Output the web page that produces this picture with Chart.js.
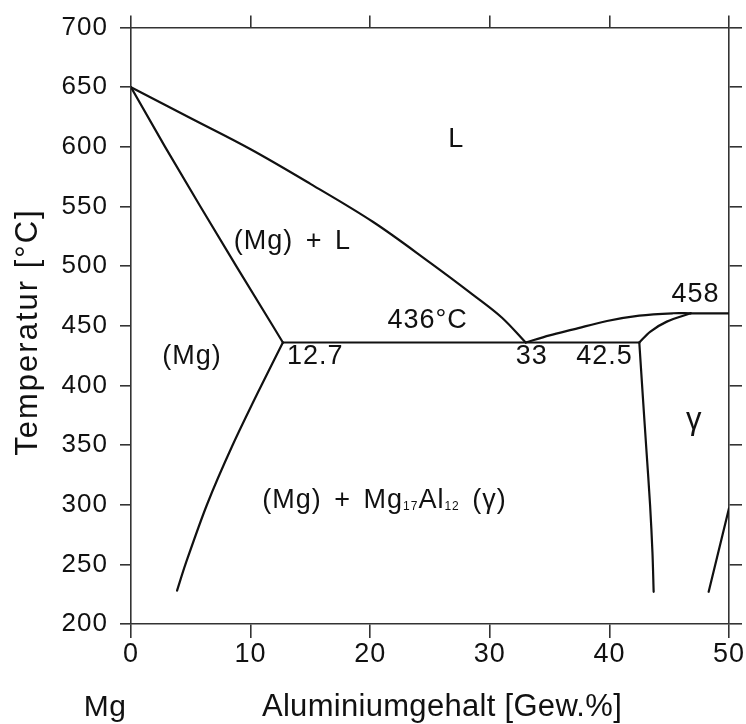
<!DOCTYPE html>
<html>
<head>
<meta charset="utf-8">
<script src="https://cdn.jsdelivr.net/npm/chart.js@4.4.1/dist/chart.umd.min.js"></script>
<style>
  html, body { margin: 0; padding: 0; background: #fff; }
  canvas { display: block; }
</style>
</head>
<body>
<canvas id="c" width="746" height="724" style="width:746px;height:724px"></canvas>
<script>
// ---- data (Aluminiumgehalt in Gew.%, Temperatur in °C) ----
const xTicks = [0, 10, 20, 30, 40, 50];
const yTicks = [200, 250, 300, 350, 400, 450, 500, 550, 600, 650, 700];

// Liquidus, Mg side
const liqMgX = [0, 5, 10, 15, 20.25, 25, 28.6, 31, 33];
const liqMgT = [650, 624, 598, 569, 537, 503, 476, 457, 436];
// Solidus, Mg side
const solMgX = [0, 2.85, 5.8, 8.8, 11.85, 12.7];
const solMgT = [650, 600, 550, 500, 450, 436];
// Solvus of (Mg)
const solvMgX = [12.7, 10.9, 8.5, 6.35, 4.55, 3.85];
const solvMgT = [436, 400, 350, 300, 250, 228];
// Eutectic line 436 °C
const eutX = [12.7, 42.5];
const eutT = [436, 436];
// Liquidus, gamma side
const liqGX = [33, 35, 37, 39.8, 42.5, 45.3, 46.8];
const liqGT = [436, 442, 447, 454, 458.5, 460.5, 460.5];
// Solidus, gamma side
const solGX = [42.5, 43.4, 44.8, 46.8];
const solGT = [436, 445, 453.5, 460.5];
// Maximum of gamma (458 °C)
const maxGX = [46.8, 50];
const maxGT = [460.5, 460.5];
// Gamma solvus, left
const solvGLX = [42.5, 42.8, 43.1, 43.4, 43.6, 43.7];
const solvGLT = [436, 390, 345, 300, 260, 227];
// Gamma solvus, right
const solvGRX = [48.3, 50];
const solvGRT = [227, 297];

// ---- text labels: [text, x, T (baseline), font size] ----
const labels = [
  ['L', 27.2, 600, 27],
  ['(Mg) + L', 13.5, 514, 27],
  ['436°C', 24.8, 448, 27],
  ['458', 47.2, 470, 27],
  ['(Mg)', 5.1, 418, 27],
  ['12.7', 15.4, 418, 27],
  ['33', 33.5, 418, 27],
  ['42.5', 39.6, 418, 27],
  ['γ', 47.1, 363.5, 31]
];
const phaseLabel = { x: 21.2, T: 297 };

const FONT = "'Liberation Sans', Arial, Helvetica, sans-serif";
const INK = '#111111';
const AXIS = '#333333';

function pts(xs, ts) { return xs.map((x, i) => ({ x: x, y: ts[i] })); }
function curve(xs, ts, tension) {
  return {
    data: pts(xs, ts), showLine: true, pointRadius: 0, borderColor: INK,
    borderWidth: 2.2, tension: tension, fill: false,
    borderJoinStyle: 'round', borderCapStyle: 'round',
    xAxisID: 'x', yAxisID: 'y'
  };
}

const textPlugin = {
  id: 'textPlugin',
  beforeDraw(chart) {
    chart.ctx.letterSpacing = '1px';
  },
  afterDraw(chart) {
    const ctx = chart.ctx;
    const sx = chart.scales.x, sy = chart.scales.y;
    ctx.save();
    ctx.fillStyle = INK;
    ctx.textBaseline = 'alphabetic';
    ctx.textAlign = 'center';
    ctx.letterSpacing = '1px';
    ctx.wordSpacing = '4px';
    labels.forEach(([t, x, T, fs]) => {
      ctx.font = fs + 'px ' + FONT;
      ctx.fillText(t, sx.getPixelForValue(x), sy.getPixelForValue(T));
    });

    // phase label with subscripts
    const parts = [
      ['(Mg) + Mg', 27, 0], ['17', 12, 2], ['Al', 27, 0], ['12', 12, 2], [' (γ)', 27, 0]
    ];
    ctx.textAlign = 'left';
    let total = 0;
    parts.forEach(p => { ctx.font = p[1] + 'px ' + FONT; total += ctx.measureText(p[0]).width; });
    let cx = sx.getPixelForValue(phaseLabel.x) - total / 2;
    const by = sy.getPixelForValue(phaseLabel.T);
    parts.forEach(p => {
      ctx.font = p[1] + 'px ' + FONT;
      ctx.fillText(p[0], cx, by + p[2]);
      cx += ctx.measureText(p[0]).width;
    });

    // axis titles
    ctx.wordSpacing = '0px';
    ctx.letterSpacing = '0.3px';
    ctx.font = '31px ' + FONT;
    ctx.textAlign = 'center';
    ctx.fillText('Aluminiumgehalt [Gew.%]', 442, 716);
    ctx.font = '30px ' + FONT;
    ctx.fillText('Mg', 105, 716);
    ctx.save();
    ctx.translate(37, 332);
    ctx.rotate(-Math.PI / 2);
    ctx.letterSpacing = '2px';
    ctx.font = '31px ' + FONT;
    ctx.fillText('Temperatur [°C]', 0, 0);
    ctx.restore();
    ctx.restore();
  }
};

const gridCommon = { drawOnChartArea: false, color: AXIS, lineWidth: 1.6 };
const borderCommon = { color: AXIS, width: 1.6 };

new Chart(document.getElementById('c'), {
  type: 'scatter',
  data: {
    datasets: [
      curve(liqMgX, liqMgT, 0.35),
      curve(solMgX, solMgT, 0),
      curve(solvMgX, solvMgT, 0.3),
      curve(eutX, eutT, 0),
      curve(liqGX, liqGT, 0.35),
      curve(solGX, solGT, 0.3),
      curve(maxGX, maxGT, 0),
      curve(solvGLX, solvGLT, 0.3),
      curve(solvGRX, solvGRT, 0)
    ]
  },
  options: {
    responsive: false,
    animation: false,
    devicePixelRatio: 1,
    layout: { padding: 0 },
    plugins: { legend: { display: false }, tooltip: { enabled: false } },
    scales: {
      x: {
        type: 'linear', position: 'bottom', min: 0, max: 50,
        afterBuildTicks: s => { s.ticks = xTicks.map(v => ({ value: v })); },
        ticks: { color: INK, font: { family: FONT, size: 27 }, padding: 0, maxRotation: 0 },
        grid: Object.assign({ tickLength: 14 }, gridCommon),
        border: borderCommon,
        afterFit: s => { s.height = 100; }
      },
      xTop: {
        type: 'linear', position: 'top', min: 0, max: 50,
        afterBuildTicks: s => { s.ticks = xTicks.map(v => ({ value: v })); },
        ticks: { display: false },
        grid: Object.assign({ tickLength: 12 }, gridCommon),
        border: borderCommon,
        afterFit: s => { s.height = 24.5; }
      },
      y: {
        type: 'linear', position: 'left', min: 200, max: 700,
        afterBuildTicks: s => { s.ticks = yTicks.map(v => ({ value: v })); },
        ticks: { color: INK, font: { family: FONT, size: 26 }, padding: 12 },
        grid: Object.assign({ tickLength: 11 }, gridCommon),
        border: borderCommon,
        afterFit: s => { s.width = 131; }
      },
      yRight: {
        type: 'linear', position: 'right', min: 200, max: 700,
        afterBuildTicks: s => { s.ticks = yTicks.map(v => ({ value: v })); },
        ticks: { display: false },
        grid: Object.assign({ tickLength: 13 }, gridCommon),
        border: borderCommon,
        afterFit: s => { s.width = 17; }
      }
    }
  },
  plugins: [textPlugin]
});
</script>
</body>
</html>
